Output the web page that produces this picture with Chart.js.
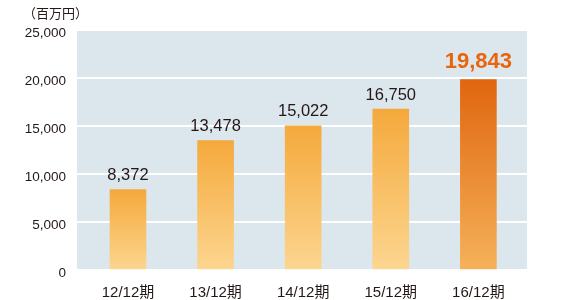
<!DOCTYPE html>
<html>
<head>
<meta charset="utf-8">
<script src="https://cdn.jsdelivr.net/npm/chart.js@4"></script>
<style>
html,body{margin:0;padding:0;background:#fff;}
#wrap{width:563px;height:300px;}
</style>
</head>
<body>
<div id="wrap"><canvas id="c" width="563" height="300"></canvas></div>
<script>
const categories = ['12/12期', '13/12期', '14/12期', '15/12期', '16/12期'];
const values = [8372, 13478, 15022, 16750, 19843];
const yTicks = [0, 5000, 10000, 15000, 20000, 25000];
const unitLabel = '（百万円）';

const FONT = "'Liberation Sans', Arial, 'Noto Sans CJK JP', sans-serif";
const TEXT = '#231815';
const fmt = v => v.toLocaleString('en-US');

const bgPlugin = {
  id: 'bg',
  beforeDraw(chart) {
    const {ctx, chartArea: a} = chart;
    ctx.save();
    ctx.fillStyle = '#DCE6ED';
    ctx.fillRect(a.left, a.top, a.right - a.left, a.bottom - a.top);
    ctx.restore();
  },
  afterDraw(chart) {
    const ctx = chart.ctx;
    ctx.save();
    ctx.font = '13px ' + FONT;
    ctx.fillStyle = TEXT;
    ctx.textAlign = 'left';
    ctx.textBaseline = 'middle';
    ctx.fillText(unitLabel, 23, 14);
    ctx.restore();
  },
  afterDatasetsDraw(chart) {
    const ctx = chart.ctx;
    const meta = chart.getDatasetMeta(0);
    ctx.save();
    ctx.textAlign = 'center';
    ctx.textBaseline = 'middle';
    meta.data.forEach((bar, i) => {
      const last = i === values.length - 1;
      ctx.font = (last ? 'bold 22px ' : '16.5px ') + FONT;
      ctx.fillStyle = last ? '#E8650E' : TEXT;
      ctx.fillText(fmt(values[i]), bar.x, bar.y - (last ? 18 : 14));
    });
    ctx.restore();
  }
};

function barColor(context) {
  const chart = context.chart;
  const y = chart.scales.y;
  if (!y || !chart.chartArea) return '#F5A83A';
  const v = values[context.dataIndex];
  const top = y.getPixelForValue(v);
  const bottom = y.getPixelForValue(0);
  const g = chart.ctx.createLinearGradient(0, top, 0, bottom);
  if (context.dataIndex === values.length - 1) {
    g.addColorStop(0, '#E0660F');
    g.addColorStop(1, '#F5B25A');
  } else {
    g.addColorStop(0, '#F5A93C');
    g.addColorStop(1, '#FCD690');
  }
  return g;
}

new Chart(document.getElementById('c'), {
  type: 'bar',
  data: {
    datasets: [{
      data: values.map((v, i) => ({x: i, y: v})),
      backgroundColor: barColor,
      borderWidth: 0,
      barThickness: 36
    }]
  },
  options: {
    responsive: false,
    animation: false,
    layout: {padding: {left: 0, top: 30, right: 36, bottom: 0}},
    plugins: {legend: {display: false}, tooltip: {enabled: false}},
    scales: {
      x: {
        type: 'linear',
        offset: false,
        min: -0.582,
        max: 4.555,
        grid: {display: false, offset: false},
        border: {display: false},
        afterBuildTicks(scale) { scale.ticks = categories.map((_, i) => ({value: i})); },
        afterFit(scale) { scale.height = 30; },
        ticks: {
          callback: v => categories[v],
          color: TEXT,
          font: {family: FONT, size: 15},
          padding: 6,
          maxRotation: 0,
          autoSkip: false
        }
      },
      y: {
        min: 0,
        max: 25000,
        afterBuildTicks(scale) { scale.ticks = yTicks.map(v => ({value: v})); },
        afterFit(scale) { scale.width = 77; },
        grid: {color: '#FFFFFF', lineWidth: 2, drawTicks: false},
        border: {display: false},
        ticks: {
          callback: v => fmt(v),
          color: TEXT,
          font: {family: FONT, size: 13.5},
          padding: 11,
          labelOffset: 3
        }
      }
    }
  },
  plugins: [bgPlugin]
});
</script>
</body>
</html>
